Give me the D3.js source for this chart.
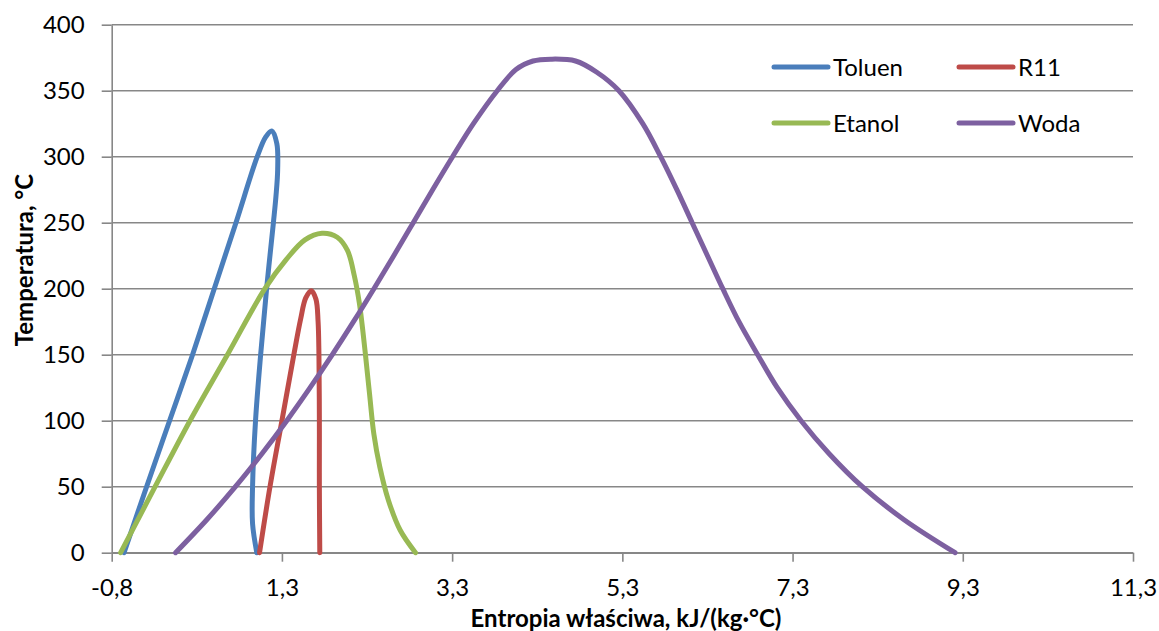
<!DOCTYPE html>
<html>
<head>
<meta charset="utf-8">
<script src="https://cdn.jsdelivr.net/npm/d3@7"></script>
<style>
  body { margin: 0; background: #fff; }
  svg text { font-family: Lato, "Open Sans", sans-serif; fill: #000; }
</style>
</head>
<body>
<script>
// dane: [entropia, temperatura]
var toluen = [[-0.605,0],[-0.34,50],[-0.07,100],[0.2,150],[0.455,200],[0.71,250],[0.96,300],[1.06,315],[1.13,319.5],[1.19,310],[1.2,290],[1.18,270],[1.15,250],[1.07,200],[1.0,150],[0.94,100],[0.905,50],[0.905,22],[0.955,0]];
var r11 = [[0.987,0],[1.11,50],[1.25,100],[1.39,150],[1.47,177],[1.53,193],[1.595,198.5],[1.65,192],[1.675,175],[1.685,150],[1.69,100],[1.69,50],[1.695,0]];
var etanol = [[-0.645,0],[-0.24,50],[0.17,100],[0.61,150],[1.05,200],[1.3,222],[1.52,237],[1.72,242],[1.9,239],[2.02,229],[2.1,210],[2.16,189],[2.23,151],[2.28,120],[2.33,90],[2.4,65],[2.5,40],[2.64,17],[2.82,0]];
var woda = [[0,0],[0.367,25],[0.704,50],[1.015,75],[1.307,100],[1.581,125],[1.842,150],[2.091,175],[2.331,200],[2.564,225],[2.793,250],[3.021,275],[3.255,300],[3.5,325],[3.78,350],[4.0,366],[4.2,372.5],[4.41,373.9],[4.7,372.5],[4.95,364],[5.21,350],[5.49,325],[5.7,300],[5.89,275],[6.07,250],[6.25,225],[6.43,200],[6.62,175],[6.84,150],[7.07,125],[7.35,100],[7.68,75],[8.07,50],[8.56,25],[9.16,0]];

var seriesNames = ["Toluen", "R11", "Etanol", "Woda"];
var seriesColors = ["#4a7ebb", "#be4b48", "#98b954", "#7d60a0"];

var xTicks = [-0.75, 1.25, 3.25, 5.25, 7.25, 9.25, 11.25];
var xTickLabels = ["-0,8", "1,3", "3,3", "5,3", "7,3", "9,3", "11,3"];
var yTicks = [0, 50, 100, 150, 200, 250, 300, 350, 400];

var xTitle = "Entropia właściwa, kJ/(kg·°C)";
var yTitle = "Temperatura, °C";

var W = 1159, H = 631;
var margin = {top: 24.7, right: 26, bottom: 78.3, left: 111.7},
    width = W - margin.left - margin.right,
    height = H - margin.top - margin.bottom;

var svg = d3.select("body").append("svg")
    .attr("width", W)
    .attr("height", H);

svg.append("rect").attr("width", W).attr("height", H).attr("fill", "#fff");

var g = svg.append("g")
    .attr("transform", "translate(" + margin.left + "," + margin.top + ")");

var x = d3.scaleLinear().domain([-0.75, 11.25]).range([0, width]);
var y = d3.scaleLinear().domain([0, 400]).range([height, 0]);

// linie siatki
g.append("g").selectAll("line")
    .data(yTicks)
    .enter().append("line")
    .attr("x1", 0)
    .attr("x2", width)
    .attr("y1", function(d) { return y(d); })
    .attr("y2", function(d) { return y(d); })
    .attr("stroke", "#878787")
    .attr("stroke-width", 1.6);

// osie
var yAxis = d3.axisLeft(y).tickValues(yTicks).tickSize(10).tickSizeOuter(0).tickPadding(17);
var xAxis = d3.axisBottom(x).tickValues(xTicks)
    .tickFormat(function(d, i) { return xTickLabels[i]; })
    .tickSize(9).tickSizeOuter(0).tickPadding(17);

var gy = g.append("g").call(yAxis);
var gx = g.append("g").attr("transform", "translate(0," + height + ")").call(xAxis);

[gx, gy].forEach(function(a) {
    a.select(".domain").attr("stroke", "#878787").attr("stroke-width", 1.6);
    a.selectAll(".tick line").attr("stroke", "#878787").attr("stroke-width", 1.6);
    a.selectAll(".tick text").attr("font-size", 24).attr("fill", "#000");
});

// krzywe
var line = d3.line()
    .x(function(d) { return x(d[0]); })
    .y(function(d) { return y(d[1]); })
    .curve(d3.curveCatmullRom.alpha(0.5));

[toluen, r11, etanol, woda].forEach(function(s, i) {
    g.append("path")
        .datum(s)
        .attr("d", line)
        .attr("fill", "none")
        .attr("stroke", seriesColors[i])
        .attr("stroke-width", 5)
        .attr("stroke-linejoin", "round")
        .attr("stroke-linecap", "round");
});

// legenda
var legend = svg.append("g").selectAll("g")
    .data(seriesNames)
    .enter().append("g")
    .attr("transform", function(d, i) {
        return "translate(" + (774 + (i % 2) * 185) + "," + (67 + Math.floor(i / 2) * 56) + ")";
    });

legend.append("line")
    .attr("x1", 0).attr("x2", 54)
    .attr("stroke", function(d, i) { return seriesColors[i]; })
    .attr("stroke-width", 5)
    .attr("stroke-linecap", "round");

legend.append("text")
    .attr("x", 59)
    .attr("y", 9)
    .attr("font-size", 24)
    .text(function(d) { return d; });

// tytuły osi
svg.append("text")
    .attr("x", 626)
    .attr("y", 627)
    .attr("text-anchor", "middle")
    .attr("font-size", 24)
    .attr("font-weight", "bold")
    .text(xTitle);

svg.append("text")
    .attr("transform", "translate(33,260) rotate(-90)")
    .attr("text-anchor", "middle")
    .attr("font-size", 24)
    .attr("font-weight", "bold")
    .text(yTitle);
</script>
</body>
</html>
